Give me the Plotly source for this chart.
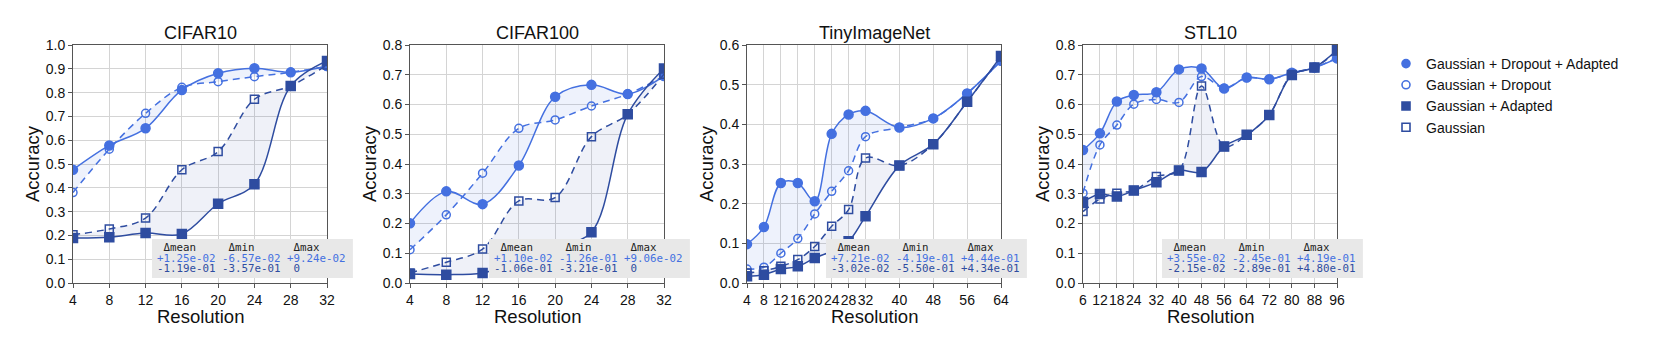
import plotly.graph_objects as go

# ---- data ----
datasets = ["CIFAR10", "CIFAR100", "TinyImageNet", "STL10"]

cifar10_res = [4, 8, 12, 16, 20, 24, 28, 32]
cifar10_gda = [0.476, 0.578, 0.650, 0.811, 0.881, 0.902, 0.885, 0.912]
cifar10_gd = [0.380, 0.562, 0.713, 0.822, 0.846, 0.867, 0.885, 0.910]
cifar10_ga = [0.189, 0.192, 0.210, 0.206, 0.333, 0.415, 0.828, 0.933]
cifar10_g = [0.203, 0.227, 0.273, 0.476, 0.552, 0.772, 0.828, 0.916]

cifar100_res = [4, 8, 12, 16, 20, 24, 28, 32]
cifar100_gda = [0.201, 0.308, 0.265, 0.395, 0.626, 0.666, 0.635, 0.696]
cifar100_gd = [0.112, 0.229, 0.369, 0.520, 0.548, 0.595, 0.635, 0.696]
cifar100_ga = [0.030, 0.028, 0.034, 0.070, 0.120, 0.171, 0.567, 0.721]
cifar100_g = [0.034, 0.070, 0.114, 0.276, 0.287, 0.492, 0.567, 0.702]

tiny_res = [4, 8, 12, 16, 20, 24, 28, 32, 40, 48, 56, 64]
tiny_gda = [0.098, 0.141, 0.252, 0.252, 0.206, 0.376, 0.425, 0.434, 0.392, 0.415, 0.478, 0.560]
tiny_gd = [0.035, 0.040, 0.075, 0.112, 0.174, 0.231, 0.283, 0.369, 0.392, 0.415, 0.478, 0.560]
tiny_ga = [0.017, 0.021, 0.035, 0.042, 0.063, 0.080, 0.105, 0.168, 0.296, 0.350, 0.457, 0.572]
tiny_g = [0.025, 0.031, 0.042, 0.059, 0.092, 0.143, 0.185, 0.315, 0.296, 0.350, 0.457, 0.570]

stl_res = [6, 12, 18, 24, 32, 40, 48, 56, 64, 72, 80, 88, 96]
stl_gda = [0.447, 0.503, 0.610, 0.632, 0.641, 0.718, 0.721, 0.654, 0.691, 0.685, 0.707, 0.724, 0.755]
stl_gd = [0.302, 0.464, 0.531, 0.601, 0.617, 0.607, 0.694, 0.655, 0.690, 0.685, 0.705, 0.724, 0.757]
stl_ga = [0.272, 0.299, 0.291, 0.311, 0.339, 0.378, 0.373, 0.459, 0.498, 0.565, 0.699, 0.724, 0.783]
stl_g = [0.240, 0.282, 0.302, 0.311, 0.358, 0.378, 0.662, 0.459, 0.498, 0.565, 0.700, 0.724, 0.780]

y_max = [1.0, 0.8, 0.6, 0.8]

# delta table rows: (dropout row, plain row) per dataset
delta_dropout = [
    ["+1.25e-02", "-6.57e-02", "+9.24e-02"],
    ["+1.10e-02", "-1.26e-01", "+9.06e-02"],
    ["+7.21e-02", "-4.19e-01", "+4.44e-01"],
    ["+3.55e-02", "-2.45e-01", "+4.19e-01"],
]
delta_plain = [
    ["-1.19e-01", "-3.57e-01", "0"],
    ["-1.06e-01", "-3.21e-01", "0"],
    ["-3.02e-02", "-5.50e-01", "+4.34e-01"],
    ["-2.15e-02", "-2.89e-01", "+4.80e-01"],
]

names = ["Gaussian + Dropout + Adapted", "Gaussian + Dropout", "Gaussian + Adapted", "Gaussian"]

panels = [
    (cifar10_res, cifar10_gda, cifar10_gd, cifar10_ga, cifar10_g),
    (cifar100_res, cifar100_gda, cifar100_gd, cifar100_ga, cifar100_g),
    (tiny_res, tiny_gda, tiny_gd, tiny_ga, tiny_g),
    (stl_res, stl_gda, stl_gd, stl_ga, stl_g),
]

LIGHT = "#4470E0"
DARK = "#2E4CA0"
FONT = "Liberation Sans, Arial, sans-serif"
MONO = "DejaVu Sans Mono, monospace"

# page body has an 8px margin, so the figure is made smaller and shifted
W, H = 1661, 350
OFF = 8
FW, FH = W - OFF, H - OFF


def px(xp):
    return (xp - OFF) / FW


def py(yp):
    return 1 - (yp - OFF) / FH


x_left_px = [73, 410, 747, 1083]
plot_w = 254
top_px, bot_px = 45, 283

fig = go.Figure()


def line_trace(x, y, color, dash, symbol, axis_id, fill=None):
    return go.Scatter(
        x=x, y=y, mode="lines+markers",
        line=dict(color=color, width=1.5, dash=dash, shape="spline"),
        marker=dict(symbol=symbol, size=8 if "open" in symbol else 9, color=color,
                    line=dict(color=color, width=1.5)),
        fill=fill, fillcolor="rgba(68,112,224,0.09)" if color == LIGHT else "rgba(46,76,160,0.08)",
        xaxis="x" + axis_id, yaxis="y" + axis_id, showlegend=False, hoverinfo="skip",
    )


DASH = "7px,5px"

for i, (res, gda, gd, ga, g) in enumerate(panels):
    aid = "" if i == 0 else str(i + 1)
    # fills go between each pair: dropout pair and plain pair
    fig.add_trace(line_trace(res, gd, LIGHT, DASH, "circle-open", aid))
    fig.add_trace(line_trace(res, gda, LIGHT, "solid", "circle", aid, fill="tonexty"))
    fig.add_trace(line_trace(res, g, DARK, DASH, "square-open", aid))
    fig.add_trace(line_trace(res, ga, DARK, "solid", "square", aid, fill="tonexty"))

    common = dict(
        showline=True, linecolor="#555555", linewidth=1, mirror=True,
        showgrid=True, gridcolor="#d4d4d4", gridwidth=1,
        ticks="outside", ticklen=4, tickcolor="#555555",
        tickfont=dict(family=FONT, size=14, color="#111111"),
        zeroline=False, automargin=False,
    )
    fig.layout["xaxis" + aid] = dict(
        domain=[px(x_left_px[i]), px(x_left_px[i] + plot_w)], range=[res[0], res[-1]],
        tickvals=res, ticktext=[str(r) for r in res], tickangle=0,
        anchor="y" + aid, **common,
    )
    fig.layout["yaxis" + aid] = dict(
        domain=[py(bot_px), py(top_px)], range=[0, y_max[i]], dtick=0.1,
        tickformat=".1f", anchor="x" + aid, **common,
    )

    cx = px(x_left_px[i] + plot_w / 2)
    # subplot title
    fig.add_annotation(
        text=datasets[i], xref="paper", yref="paper",
        x=cx, y=py(33), xanchor="center", yanchor="middle",
        showarrow=False, font=dict(family=FONT, size=18, color="#111111"),
    )
    # axis titles
    fig.add_annotation(
        text="Resolution", xref="paper", yref="paper",
        x=cx, y=py(316), xanchor="center", yanchor="middle",
        showarrow=False, font=dict(family=FONT, size=18.5, color="#111111"),
    )
    fig.add_annotation(
        text="Accuracy", xref="paper", yref="paper", textangle=-90,
        x=px(x_left_px[i] - 41), y=py((top_px + bot_px) / 2),
        xanchor="center", yanchor="middle",
        showarrow=False, font=dict(family=FONT, size=18.5, color="#111111"),
    )

    # delta box
    xr = "x" + aid + " domain" if aid else "x domain"
    yr = "y" + aid + " domain" if aid else "y domain"
    fig.add_shape(type="rect", xref=xr, yref=yr, x0=0.311, x1=1.102, y0=0.021, y1=0.185,
                  fillcolor="#e8e8e8", line=dict(width=0), layer="above")
    header = " Δmean     Δmin      Δmax"
    row1 = " ".join(delta_dropout[i])
    row2 = " ".join(v if v.startswith(("+", "-")) else " " + v for v in delta_plain[i])
    for txt, yy, col in [(header, 0.151, "#222222"), (row1, 0.105, LIGHT), (row2, 0.059, DARK)]:
        fig.add_annotation(
            text=txt.replace(" ", "\u00a0"), xref=xr, yref=yr, x=0.323, y=yy,
            xanchor="left", yanchor="middle", showarrow=False,
            font=dict(family=MONO, size=10.8, color=col),
        )

# legend-only entries (markers only)
legend_specs = [(names[0], "circle", LIGHT), (names[1], "circle-open", LIGHT),
                (names[2], "square", DARK), (names[3], "square-open", DARK)]
for nm, sym, col in legend_specs:
    fig.add_trace(go.Scatter(
        x=[None], y=[None], mode="markers", name=nm,
        marker=dict(symbol=sym, size=8, color=col, line=dict(color=col, width=1.6)),
        showlegend=True,
    ))

fig.update_layout(
    width=FW, height=FH,
    margin=dict(l=0, r=0, t=0, b=0),
    paper_bgcolor="white", plot_bgcolor="white",
    font=dict(family=FONT, color="#111111"),
    legend=dict(x=px(1386), y=py(48), xanchor="left", yanchor="top",
                traceorder="normal",
                font=dict(family=FONT, size=14, color="#111111"),
                bgcolor="rgba(0,0,0,0)", tracegroupgap=0),
)

fig.write_html("out.html")
